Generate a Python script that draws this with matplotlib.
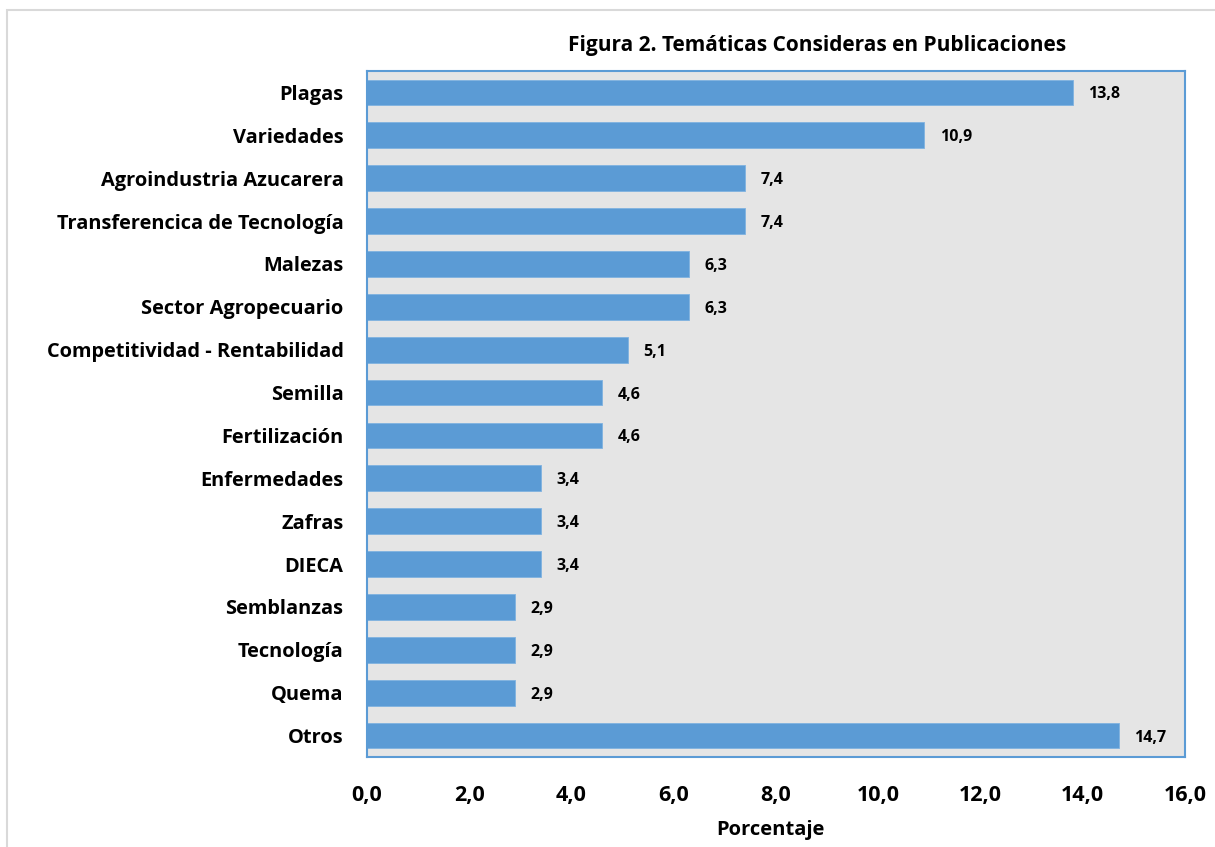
import matplotlib.pyplot as plt
from matplotlib.patches import Rectangle

categorias = ['Plagas', 'Variedades', 'Agroindustria Azucarera', 'Transferencica de Tecnología',
              'Malezas', 'Sector Agropecuario', 'Competitividad - Rentabilidad', 'Semilla',
              'Fertilización', 'Enfermedades', 'Zafras', 'DIECA', 'Semblanzas', 'Tecnología',
              'Quema', 'Otros']
porcentajes = [13.8, 10.9, 7.4, 7.4, 6.3, 6.3, 5.1, 4.6, 4.6, 3.4, 3.4, 3.4, 2.9, 2.9, 2.9, 14.7]
ticks_x = [0, 2, 4, 6, 8, 10, 12, 14, 16]

plt.rcParams['font.family'] = ['Open Sans', 'DejaVu Sans']
plt.rcParams['font.weight'] = 'bold'

fig = plt.figure(figsize=(12.15, 8.47), dpi=100)
fig.patches.append(Rectangle((7 / 1215, -0.01), 1.1, 1 - 10 / 847 + 0.01, transform=fig.transFigure,
                             fill=False, edgecolor='#D9D9D9', linewidth=1.5))

ax = fig.add_axes([367 / 1215, 1 - 757 / 847, (1185 - 367) / 1215, (757 - 71) / 847])
ax.set_facecolor('#E5E5E5')

y = list(range(len(categorias)))
ax.barh(y, porcentajes, height=0.6, color='#5B9BD5', edgecolor='#7FB2E0', linewidth=0.6)

for yi, v in zip(y, porcentajes):
    ax.text(v + 0.3, yi, f'{v:.1f}'.replace('.', ','), va='center_baseline', ha='left',
            fontsize=11.5, fontweight='bold', color='black')

ax.set_xlim(0, 16)
ax.set_ylim(len(categorias) - 0.5, -0.5)
ax.set_yticks(y)
ax.set_yticklabels(categorias, fontsize=14.4, fontweight='bold')
ax.set_xticks(ticks_x)
ax.set_xticklabels([f'{t:.1f}'.replace('.', ',') for t in ticks_x], fontsize=15.5, fontweight='bold')
ax.tick_params(axis='both', length=0)
ax.tick_params(axis='y', pad=17)
ax.tick_params(axis='x', pad=20)

for s in ax.spines.values():
    s.set_color('#5B9BD5')
    s.set_linewidth(1.5)

ax.set_xlabel('Porcentaje', fontsize=14.5, fontweight='bold', labelpad=10,
              x=(770 - 367) / (1185 - 367))
fig.text(817 / 1215, 1 - 46 / 847, 'Figura 2. Temáticas Consideras en Publicaciones',
         fontsize=15, fontweight='bold', ha='center', va='center')

fig.savefig('out.png', dpi=100)
